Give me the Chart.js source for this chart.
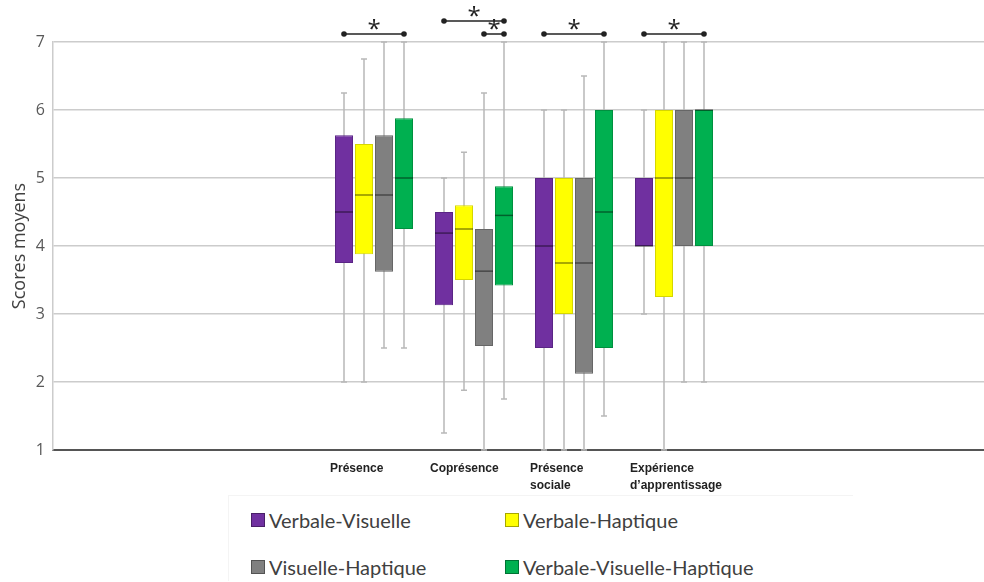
<!DOCTYPE html>
<html lang="fr">
<head>
<meta charset="utf-8">
<script src="https://cdn.jsdelivr.net/npm/chart.js@4/dist/chart.umd.min.js"></script>
<style>
  body { margin: 0; background: #fff; }
  #wrap { position: relative; width: 984px; height: 582px; }
  #legend {
    position: absolute; left: 228px; top: 495px; width: 625px; height: 86px;
    border-top: 1px solid #f4f4f4; border-left: 1px solid #f4f4f4;
    display: grid; grid-template-columns: 254px 254px; grid-auto-rows: 47px;
    padding-left: 22px; box-sizing: border-box;
    font-family: Lato, "Open Sans", sans-serif; font-size: 20px; color: #404040;
  }
  .item { display: flex; align-items: center; }
  .sw { width: 12px; height: 12px; margin-right: 4px; border: 1px solid rgba(0,0,0,0.35); }
</style>
</head>
<body>
<div id="wrap">
  <canvas id="chart" width="984" height="494"></canvas>
  <div id="legend"></div>
</div>
<script>
// ------------------------------------------------------------
// Données
// ------------------------------------------------------------
const categories = ['Présence', 'Coprésence', ['Présence', 'sociale'], ['Expérience', 'd’apprentissage']];
const seriesNames = ['Verbale-Visuelle', 'Verbale-Haptique', 'Visuelle-Haptique', 'Verbale-Visuelle-Haptique'];
const seriesColors = ['#7030A0', '#FFFF00', '#808080', '#00B050'];
const seriesBorders = ['#5a2585', '#d6d600', '#666666', '#00903f'];

// min, Q1, médiane, Q3, max par catégorie
const vvMin = [2, 1.25, 1, 3];
const vvQ1  = [3.75, 3.13, 2.5, 4];
const vvMed = [4.5, 4.19, 4, 4];
const vvQ3  = [5.63, 4.5, 5, 5];
const vvMax = [6.25, 5, 6, 6];

const vhMin = [2, 1.88, 1, 1];
const vhQ1  = [3.88, 3.5, 3, 3.25];
const vhMed = [4.75, 4.25, 3.75, 5];
const vhQ3  = [5.5, 4.6, 5, 6];
const vhMax = [6.75, 5.38, 6, 7];

const visMin = [2.5, 1, 1, 2];
const visQ1  = [3.62, 2.53, 2.12, 4];
const visMed = [4.75, 3.63, 3.75, 5];
const visQ3  = [5.63, 4.25, 5, 6];
const visMax = [7, 6.25, 6.5, 7];

const vvhMin = [2.5, 1.75, 1.5, 2];
const vvhQ1  = [4.25, 3.42, 2.5, 4];
const vvhMed = [5, 4.45, 4.5, 6];
const vvhQ3  = [5.88, 4.88, 6, 6];
const vvhMax = [7, 7, 7, 7];

const yTicks = [1, 2, 3, 4, 5, 6, 7];

// comparaisons significatives : [catégorie, série A, série B, niveau]
const sigPairs = [[0, 0, 3, 0], [1, 0, 3, 1], [1, 2, 3, 0], [2, 0, 3, 0], [3, 0, 3, 0]];

const stats = [
  { min: vvMin,  q1: vvQ1,  med: vvMed,  q3: vvQ3,  max: vvMax },
  { min: vhMin,  q1: vhQ1,  med: vhMed,  q3: vhQ3,  max: vhMax },
  { min: visMin, q1: visQ1, med: visMed, q3: visQ3, max: visMax },
  { min: vvhMin, q1: vvhQ1, med: vvhMed, q3: vvhQ3, max: vvhMax }
];

// ------------------------------------------------------------
// Moustaches + médianes + astérisques (plugin)
// ------------------------------------------------------------
const boxPlugin = {
  id: 'boxExtras',
  beforeDatasetsDraw(chart) {
    const { ctx, scales: { y } } = chart;
    ctx.save();
    ctx.strokeStyle = '#b8b8b8';
    ctx.lineWidth = 1.5;
    stats.forEach((s, di) => {
      chart.getDatasetMeta(di).data.forEach((bar, i) => {
        const yMin = y.getPixelForValue(s.min[i]);
        const yMax = y.getPixelForValue(s.max[i]);
        ctx.beginPath();
        ctx.moveTo(bar.x, yMin); ctx.lineTo(bar.x, yMax);
        ctx.moveTo(bar.x - 3, yMin); ctx.lineTo(bar.x + 3, yMin);
        ctx.moveTo(bar.x - 3, yMax); ctx.lineTo(bar.x + 3, yMax);
        ctx.stroke();
      });
    });
    ctx.restore();
  },
  afterDatasetsDraw(chart) {
    const { ctx, scales: { y } } = chart;
    ctx.save();
    ctx.strokeStyle = 'rgba(0,0,0,0.45)';
    ctx.lineWidth = 1.5;
    stats.forEach((s, di) => {
      chart.getDatasetMeta(di).data.forEach((bar, i) => {
        const ym = y.getPixelForValue(s.med[i]);
        ctx.beginPath();
        ctx.moveTo(bar.x - bar.width / 2, ym);
        ctx.lineTo(bar.x + bar.width / 2, ym);
        ctx.stroke();
      });
    });
    ctx.restore();
  },
  afterDraw(chart) {
    const { ctx, chartArea } = chart;
    ctx.save();
    ctx.strokeStyle = '#222';
    ctx.fillStyle = '#222';
    ctx.lineWidth = 1.5;
    ctx.font = '24px "Open Sans", sans-serif';
    ctx.textAlign = 'center';
    ctx.textBaseline = 'middle';
    sigPairs.forEach(([cat, a, b, level]) => {
      const x1 = chart.getDatasetMeta(a).data[cat].x;
      const x2 = chart.getDatasetMeta(b).data[cat].x;
      const yl = chartArea.top - 8 - level * 13;
      ctx.beginPath();
      ctx.moveTo(x1, yl); ctx.lineTo(x2, yl);
      ctx.stroke();
      [x1, x2].forEach(x => { ctx.beginPath(); ctx.arc(x, yl, 2.8, 0, Math.PI * 2); ctx.fill(); });
      ctx.fillText('*', (x1 + x2) / 2, yl - 4);
    });
    ctx.restore();
  }
};

// ------------------------------------------------------------
// Graphique
// ------------------------------------------------------------
const datasets = seriesNames.map((name, di) => ({
  label: name,
  data: categories.map((c, i) => ({ x: i, y: [stats[di].q1[i], stats[di].q3[i]] })),
  backgroundColor: seriesColors[di],
  borderColor: seriesBorders[di],
  borderWidth: 1,
  borderSkipped: false,
  categoryPercentage: 0.8,
  barPercentage: 0.9
}));

new Chart(document.getElementById('chart').getContext('2d'), {
  type: 'bar',
  data: { datasets },
  options: {
    responsive: false,
    animation: false,
    layout: { padding: { top: 42, right: 0, left: 0, bottom: 0 } },
    plugins: { legend: { display: false }, tooltip: { enabled: false } },
    scales: {
      x: {
        type: 'linear',
        offset: false,
        min: -3.21, max: 6.10,
        grid: { display: false },
        border: { display: true, color: '#555', width: 2 },
        afterBuildTicks: (scale) => { scale.ticks = categories.map((c, i) => ({ value: i })); },
        afterFit: (scale) => { scale.height = 44; },
        ticks: {
          callback: (v) => categories[v],
          align: 'start',
          labelOffset: -44,
          padding: 2,
          color: '#222',
          font: { family: '"Liberation Sans", Arial, sans-serif', size: 12, weight: 'bold', lineHeight: 1.45 },
          maxRotation: 0, autoSkip: false
        }
      },
      y: {
        min: 1, max: 7,
        afterBuildTicks: (scale) => { scale.ticks = yTicks.map(v => ({ value: v })); },
        afterFit: (scale) => { scale.width = 53; },
        grid: { color: '#cccccc', lineWidth: 1.5, drawTicks: false },
        border: { display: true, color: '#cccccc', width: 1.5 },
        ticks: { padding: 8, color: '#595959', font: { family: '"Open Sans", sans-serif', size: 16 } },
        title: {
          display: true, text: 'Scores moyens', color: '#404040',
          font: { family: '"Open Sans", sans-serif', size: 18 },
          padding: { top: 9, bottom: 0 }
        }
      }
    }
  },
  plugins: [boxPlugin]
});

// Légende HTML (2 colonnes)
const legend = document.getElementById('legend');
[0, 1, 2, 3].forEach(di => {
  const item = document.createElement('div');
  item.className = 'item';
  item.innerHTML = '<span class="sw" style="background:' + seriesColors[di] + '"></span>' + seriesNames[di];
  legend.appendChild(item);
});
</script>
</body>
</html>
